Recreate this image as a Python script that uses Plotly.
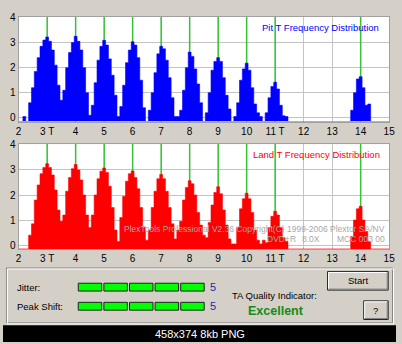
import plotly.graph_objects as go

W, H = 402, 344

# ---------------- data ----------------
X_START = 2.0
BIN_WIDTH = 0.1
T_MARKS = [3, 4, 5, 6, 7, 8, 9, 10, 11, 14]
X_TICKS = list(range(2, 16))
X_TICK_TEXT = ["2", "3 T", "4", "5", "6", "7", "8", "9", "10", "11 T", "12", "13", "14", "15"]
Y_TICKS = [0, 1, 2, 3, 4]

# Pit T frequency distribution, bins of 0.1 T starting at 2.0 T
PIT = [
    0, 0, 0.05, 0, 0.6, 1.2, 1.85, 2.4, 2.85, 3.1,          # 2.0-2.9
    3.22, 3.05, 2.7, 2.1, 1.3, 0.7, 1.1, 2.0, 2.6, 3.0,      # 3.0-3.9
    3.25, 3.05, 2.7, 2.0, 1.0, 0.1, 0.5, 1.4, 2.3, 2.85,     # 4.0-4.9
    3.09, 2.9, 2.35, 1.7, 0.9, 0.05, 0.45, 1.3, 2.2, 2.7,    # 5.0-5.9
    3.03, 2.9, 2.4, 1.5, 0.4, 0, 0.3, 1.0, 1.8, 2.55,        # 6.0-6.9
    2.85, 2.75, 2.3, 1.6, 0.8, 0.05, 0.05, 0.3, 1.1, 2.0,    # 7.0-7.9
    2.62, 2.45, 1.95, 1.35, 0.6, 0, 0.2, 1.0, 1.9, 2.25,     # 8.0-8.9
    2.40, 2.25, 1.6, 0.9, 0.35, 0, 0.05, 0.6, 1.5, 1.95,     # 9.0-9.9
    2.18, 1.9, 1.2, 0.55, 0.2, 0.05, 0, 0.2, 0.8, 1.25,      # 10.0-10.9
    1.42, 1.15, 0.5, 0.08, 0.05, 0, 0, 0, 0, 0,              # 11.0-11.9
    0, 0, 0, 0, 0, 0, 0, 0, 0, 0,                            # 12.0-12.9
    0, 0, 0, 0, 0, 0, 0, 0.3, 1.0, 1.55,                     # 13.0-13.9
    1.64, 1.2, 0.5, 0.55, 0, 0, 0, 0, 0, 0,                  # 14.0-14.9
    0,                                                       # 15.0
]

# Land T frequency distribution, bins of 0.1 T starting at 2.0 T
LAND = [
    0, 0, 0, 0, 0.4, 0.85, 1.8, 2.4, 2.85, 3.1,              # 2.0-2.9
    3.25, 3.1, 2.8, 2.2, 1.4, 0.95, 1.2, 2.15, 2.7, 3.05,    # 3.0-3.9
    3.22, 3.0, 2.6, 2.0, 1.2, 0.7, 1.2, 2.0, 2.65, 2.95,     # 4.0-4.9
    3.08, 2.9, 2.35, 1.5, 0.6, 0.15, 1.1, 1.95, 2.55, 2.85,  # 5.0-5.9
    2.96, 2.7, 2.25, 1.5, 0.7, 0.2, 0.6, 1.5, 2.15, 2.65,    # 6.0-6.9
    2.82, 2.65, 2.15, 1.5, 0.85, 0.25, 0.6, 0.95, 1.8, 2.3,  # 7.0-7.9
    2.57, 2.45, 2.0, 1.3, 0.8, 0.4, 0.3, 0.9, 1.6, 2.1,      # 8.0-8.9
    2.33, 2.05, 1.4, 0.8, 0.25, 0.05, 0.05, 0.7, 1.45, 1.85, # 9.0-9.9
    2.07, 1.85, 1.3, 0.6, 0.2, 0.05, 0.2, 0.1, 0.7, 1.15,    # 10.0-10.9
    1.35, 1.2, 0.7, 0.3, 0.15, 0, 0, 0, 0, 0,                # 11.0-11.9
    0, 0, 0, 0, 0, 0, 0, 0, 0, 0,                            # 12.0-12.9
    0, 0, 0, 0, 0, 0, 0, 0.35, 1.0, 1.45,                    # 13.0-13.9
    1.55, 1.0, 0.55, 0.15, 0, 0, 0, 0, 0, 0,                 # 14.0-14.9
    0,                                                       # 15.0
]

JITTER_LEVEL = 5
PEAK_SHIFT_LEVEL = 5
LED_COUNT = 5
QUALITY = "Excellent"

# ---------------- helpers ----------------
BG = "#d4d0c8"
FONT = "Liberation Sans, Arial, sans-serif"
Y_MIN, Y_MAX = -0.15, 4.03


def px(xp):
    return xp / W


def py(yp):
    return 1 - yp / H


def histogram(values, color, xa, ya):
    # step outline, filled down to the bottom of the plot; empty bins stay white
    xs, ys = [], []
    for i, v in enumerate(values):
        x = X_START + i * BIN_WIDTH
        y = v if v > 0 else Y_MIN
        xs += [round(x - BIN_WIDTH / 2, 3), round(x + BIN_WIDTH / 2, 3)]
        ys += [y, y]
    base = go.Scatter(x=[xs[0], xs[-1]], y=[Y_MIN, Y_MIN], mode="lines", line=dict(width=0),
                      xaxis=xa, yaxis=ya, showlegend=False, hoverinfo="skip")
    fill = go.Scatter(x=xs, y=ys, mode="lines", line=dict(width=0.6, color=color, simplify=False),
                      fill="tonexty", fillcolor=color, xaxis=xa, yaxis=ya, showlegend=False,
                      hoverinfo="skip")
    return [base, fill]


def marks(xa, ya):
    xs, ys = [], []
    for t in T_MARKS:
        xs += [t, t, None]
        ys += [Y_MIN, Y_MAX, None]
    return go.Scatter(x=xs, y=ys, mode="lines", line=dict(color="#33c433", width=1.5),
                      xaxis=xa, yaxis=ya, showlegend=False, hoverinfo="skip")


fig = go.Figure()
fig.add_trace(marks("x", "y"))
fig.add_traces(histogram(PIT, "#0000ff", "x", "y"))
fig.add_trace(marks("x2", "y2"))
fig.add_traces(histogram(LAND, "#ff0000", "x2", "y2"))

xdom = [px(16), px(395)]
axis_common = dict(showgrid=True, gridcolor="#c4c4c4", gridwidth=1, zeroline=False,
                   showline=True, linecolor="#a0a0a0", linewidth=1, mirror=True,
                   tickfont=dict(family=FONT, size=10, color="black"), ticks="")

xaxis_cfg = dict(axis_common, range=[2, 15], tickvals=X_TICKS, ticktext=X_TICK_TEXT, domain=xdom)
yaxis_cfg = dict(axis_common, range=[Y_MIN, Y_MAX], tickvals=Y_TICKS)

fig.update_layout(
    width=W, height=H, margin=dict(l=0, r=0, t=0, b=0),
    paper_bgcolor=BG, plot_bgcolor="white",
    xaxis=dict(xaxis_cfg, anchor="y"),
    yaxis=dict(yaxis_cfg, domain=[py(119), py(12)], anchor="x"),
    xaxis2=dict(xaxis_cfg, anchor="y2"),
    yaxis2=dict(yaxis_cfg, domain=[py(249), py(142)], anchor="x2"),
)

ann = []
shapes = []


def text(x, y, s, size=10, color="black", xanchor="center", bold=False):
    ann.append(dict(x=px(x), y=py(y), xref="paper", yref="paper", text=("<b>%s</b>" % s) if bold else s,
                    showarrow=False, xanchor=xanchor, yanchor="middle", borderpad=0,
                    font=dict(family=FONT, size=size, color=color)))


def rect(x0, y0, x1, y1, fill=None, line=None, lw=1):
    shapes.append(dict(type="rect", xref="paper", yref="paper", x0=px(x0), x1=px(x1), y0=py(y0), y1=py(y1),
                       fillcolor=fill if fill else "rgba(0,0,0,0)",
                       line=dict(color=line if line else "rgba(0,0,0,0)", width=lw if line else 0)))


def hline(x0, x1, y, color):
    shapes.append(dict(type="line", xref="paper", yref="paper", x0=px(x0), x1=px(x1), y0=py(y), y1=py(y),
                       line=dict(color=color, width=1)))


def vline(x, y0, y1, color):
    shapes.append(dict(type="line", xref="paper", yref="paper", x0=px(x), x1=px(x), y0=py(y0), y1=py(y1),
                       line=dict(color=color, width=1)))


# chart titles
text(386, 23, "Pit T Frequency Distribution", size=9.5, color="#0000ff", xanchor="right")
text(387, 153, "Land T Frequency Distribution", size=9.5, color="#ff0000", xanchor="right")

# watermark
text(392, 229, "PlexTools Professional V2.36 Copyright(C) 1999-2006 Plextor SA/NV", size=8.5,
     color="#a8a8a8", xanchor="right")
text(301, 239, "DVD+R", size=8.5, color="#a8a8a8", xanchor="right")
text(325, 239, "8.0X", size=8.5, color="#a8a8a8", xanchor="right")
text(392, 239, "MCC 003 00", size=8.5, color="#a8a8a8", xanchor="right")

# bottom panel (etched frame)
rect(3.5, 268.5, 398.5, 324.5, line="#808080")
rect(4.5, 269.5, 399.5, 325.5, line="#ffffff")

# LED bars
for row_y, level, label in [(288, JITTER_LEVEL, "Jitter:"), (307.5, PEAK_SHIFT_LEVEL, "Peak Shift:")]:
    text(13, row_y, label, size=9.5, xanchor="left")
    for i in range(LED_COUNT):
        x0 = 77 + i * 26.2
        fill = "#00ff00" if i < level else BG
        rect(x0, row_y - 4, x0 + 24, row_y + 4, fill=fill, line="#202020")
    text(215, row_y, str(level), size=11, color="#2626b8")

text(278, 297, "TA Quality Indicator:", size=9.5)
text(279, 312, QUALITY, size=12.5, color="#168a16", bold=True)


def button(x0, y0, x1, y1, label):
    rect(x0, y0, x1, y1, fill=BG, line="#202020")
    hline(x0 + 1, x1 - 1, y0 + 1, "#ffffff")
    vline(x0 + 1, y0 + 1, y1 - 1, "#ffffff")
    hline(x0 + 1, x1 - 1, y1 - 1, "#808080")
    vline(x1 - 1, y0 + 1, y1 - 1, "#808080")
    text((x0 + x1) / 2, (y0 + y1) / 2, label, size=9.5)


button(332, 272, 394, 291, "Start")
button(369, 302, 394, 321, "?")

# bottom caption band
rect(0, 327, 402, 344, fill="#000000")
text(201, 336, "458x374 8kb PNG", size=11, color="white")

fig.update_layout(annotations=ann, shapes=shapes)
fig.write_html("out.html")
